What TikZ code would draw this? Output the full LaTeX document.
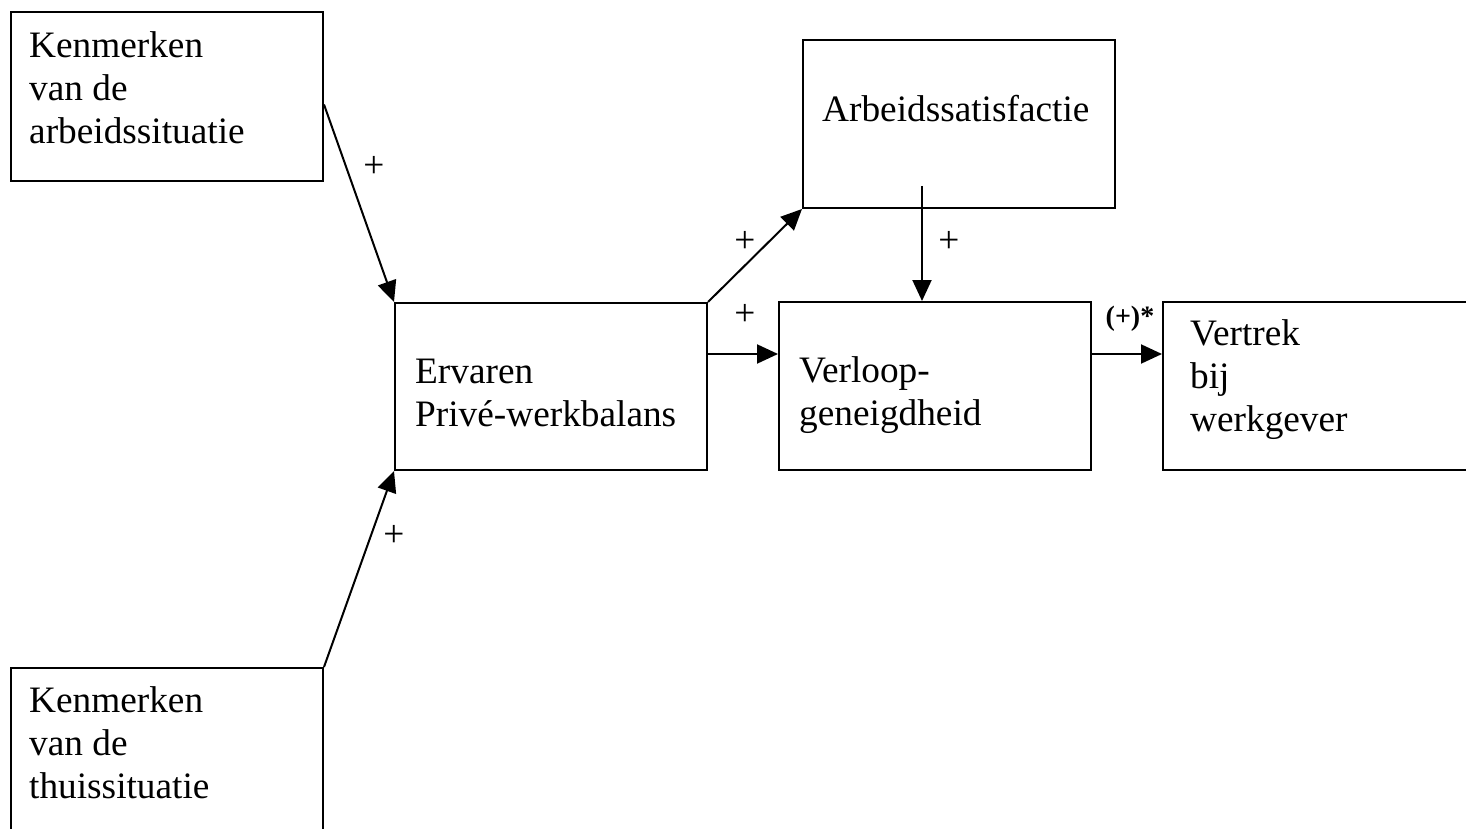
\documentclass[tikz,border=0pt]{standalone}
\usepackage{fontspec}
\setmainfont{Liberation Serif}
\usetikzlibrary{arrows.meta}
\newcommand\boxtext{\fontsize{37.3}{43}\selectfont}
\newcommand\lbltext{\fontsize{28}{32}\selectfont}
\newcommand\stacklines[1]{\begin{tabular}[t]{@{}l@{}}#1\end{tabular}}
\tikzset{
  blk/.style={draw, line width=2pt, rectangle, inner sep=0pt, anchor=north west},
  txt/.style={font=\boxtext, inner sep=0pt, anchor=base west},
  lbl/.style={font=\boxtext, inner sep=0pt},
  arr/.style={line width=2pt, -{Triangle[length=21pt,width=19pt]}},
  ln/.style={line width=2pt}
}
\begin{document}
\begin{tikzpicture}[x=1pt,y=-1pt]
\clip (0,0) rectangle (1466,829);
\fill[white] (0,0) rectangle (1466,829);
% boxes
\node[blk, minimum width=312pt, minimum height=169pt] (a) at (10,11) {};
\node[blk, minimum width=312pt, minimum height=180pt] (bt) at (10,667) {};
\node[blk, minimum width=312pt, minimum height=167pt] (e) at (394,302) {};
\node[blk, minimum width=312pt, minimum height=168pt] (s) at (802,39) {};
\node[blk, minimum width=312pt, minimum height=168pt] (v) at (778,301) {};
\node[blk, minimum width=330pt, minimum height=168pt] (w) at (1162,301) {};
% texts
\node[txt] (ta) at (29,58) {\stacklines{Kenmerken\\van de\\arbeidssituatie}};
\node[txt] (tb) at (29,712) {\stacklines{Kenmerken\\van de\\thuissituatie}};
\node[txt] (te) at (415,383) {\stacklines{Ervaren\\Privé-werkbalans}};
\node[txt] (ts) at (822,122) {Arbeidssatisfactie};
\node[txt] (tv) at (799,382) {\stacklines{Verloop-\\geneigdheid}};
\node[txt] (tw) at (1190,345) {\stacklines{Vertrek\\bij\\werkgever}};
% labels
\node[lbl] (l1) at (374,167) {+};
\node[lbl] (l2) at (394,536) {+};
\node[lbl] (l3) at (745,242) {+};
\node[lbl] (l4) at (745,315) {+};
\node[lbl] (l5) at (949,242) {+};
\node[lbl, font=\lbltext\bfseries] (l6) at (1130,319) {(+)*};
% connectors
\coordinate (sIn) at (922,186);
\coordinate (row) at (0,354);
\draw[arr] ([yshift=-8pt]a.east) -- (e.north west);
\draw[arr] (bt.north east) -- (e.south west);
\draw[arr] (e.north east) -- (s.south west);
\draw[arr] (e.east |- row) -- (v.west |- row);
\draw[arr] (sIn) -- (sIn |- v.north);
\draw[arr] (v.east |- row) -- (w.west |- row);
\end{tikzpicture}
\end{document}
